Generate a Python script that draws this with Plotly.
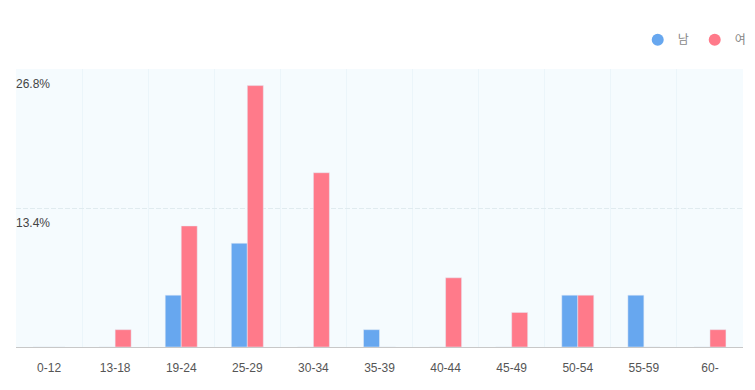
import plotly.graph_objects as go

categories = ["0-12", "13-18", "19-24", "25-29", "30-34", "35-39", "40-44", "45-49", "50-54", "55-59", "60-"]
male = [0, 0, 5.0, 10.0, 0, 1.67, 0, 0, 5.0, 5.0, 0]
female = [0, 1.67, 11.67, 25.2, 16.8, 0, 6.67, 3.33, 5.0, 0, 1.67]
series_names = ["남", "여"]
y_ticks = [13.4, 26.8]
y_tick_text = ["13.4%", "26.8%"]

BLUE = "#67a7ef"
RED = "#ff7a8a"
FONT = "Arial, Liberation Sans, Noto Sans CJK KR, sans-serif"

fig = go.Figure()
fig.add_trace(go.Bar(x=categories, y=male, name=series_names[0], marker_color=BLUE,
                     showlegend=False, hovertemplate="%{x}: %{y}%<extra></extra>"))
fig.add_trace(go.Bar(x=categories, y=female, name=series_names[1], marker_color=RED,
                     showlegend=False, hovertemplate="%{x}: %{y}%<extra></extra>"))
# legend entries with circle markers
for name, col in zip(series_names, [BLUE, RED]):
    fig.add_trace(go.Scatter(x=[None], y=[None], mode="markers", name=name,
                             marker=dict(color=col, size=11, symbol="circle")))

# y tick labels drawn inside the plot, just below their gridlines
for v, t in zip(y_ticks, y_tick_text):
    fig.add_annotation(x=0, xref="paper", xanchor="left", y=v, yref="y", yanchor="middle",
                       yshift=-15, text=t, showarrow=False,
                       font=dict(size=12, color="#444", family=FONT), xshift=-2)

fig.update_layout(
    width=755, height=390,
    margin=dict(l=16, r=12, t=69, b=43, autoexpand=False),
    paper_bgcolor="white",
    plot_bgcolor="#f5fbfe",
    barmode="group",
    bargap=0.516,
    bargroupgap=0,
    font=dict(family=FONT, size=12, color="#555"),
    legend=dict(orientation="h", x=1.012, xanchor="right", y=1.105, yanchor="middle",
                font=dict(size=12, color="#888"), itemsizing="constant",
                bgcolor="rgba(0,0,0,0)", itemwidth=30, tracegroupgap=0,
                entrywidth=12),
    xaxis=dict(type="category", range=[-0.5, 10.5], showgrid=True, gridcolor="#ebf5fa", gridwidth=1,
               tickson="boundaries", ticks="", showline=True, linecolor="#c8c8c8",
               linewidth=1, tickfont=dict(size=12, color="#555"), fixedrange=True,
               ticklabelstandoff=10),
    yaxis=dict(range=[0, 26.8], tickvals=y_ticks, showticklabels=False,
               showgrid=True, gridcolor="#e0ebef",
               griddash="5px,2px", gridwidth=1, zeroline=False, showline=False,
               fixedrange=True),
)

fig.write_html("out.html")
